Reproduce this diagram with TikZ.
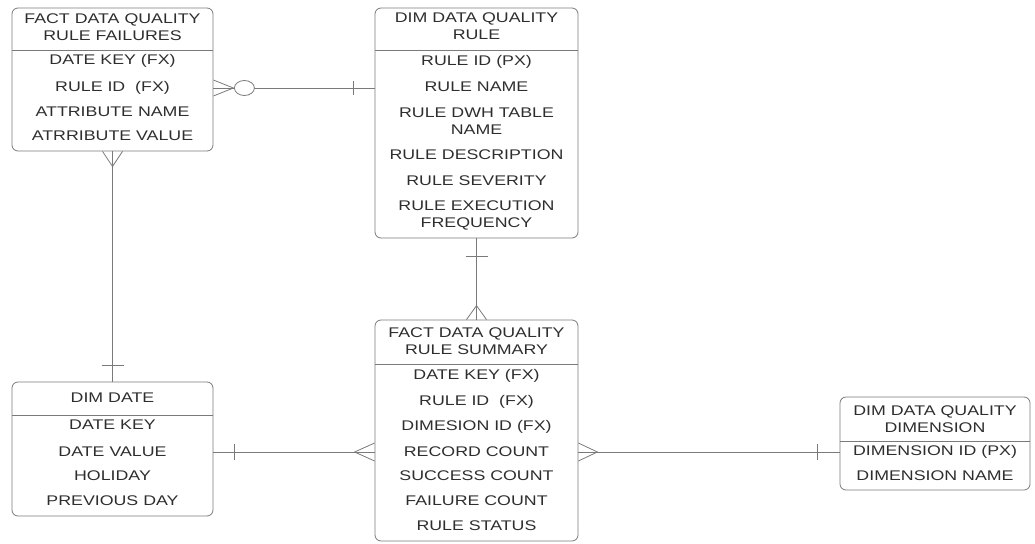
\documentclass[tikz,border=0pt]{standalone}
\usepackage{fontspec}
\newfontfamily\erfont{Liberation Sans}[FakeStretch=1.27]
\usepackage{xcolor}
\definecolor{cLine}{HTML}{7A7A7A}
\definecolor{cText}{HTML}{2E2E2E}
\usepackage{tikz}
\usetikzlibrary{positioning,calc}
\tikzset{
  entity/.style={draw=cLine,line width=0.8pt,rounded corners=6pt,
    inner sep=0pt},
  field/.style={font=\erfont\fontsize{14}{17}\selectfont,text=cText,
    inner sep=0pt,align=center},
  rel/.style={draw=cLine,line width=0.8pt},
}
\begin{document}
\begin{tikzpicture}[x=1pt,y=-1pt]
  \useasboundingbox (0,0) rectangle (1035,543);
  % entity boxes
  \node[entity,minimum width=201pt,minimum height=143pt] (fail) at (112.5,79.5) {};
  \node[entity,minimum width=203pt,minimum height=230pt] (rule) at (476.5,123) {};
  \node[entity,minimum width=201pt,minimum height=134pt] (date) at (112.5,449) {};
  \node[entity,minimum width=203pt,minimum height=221pt] (summ) at (476.5,430.5) {};
  \node[entity,minimum width=190pt,minimum height=93pt]  (dim)  at (935,443.5) {};
  % header dividers
  \draw[rel] (12,50)  -- (213,50);
  \draw[rel] (375,50) -- (578,50);
  \draw[rel] (12,415) -- (213,415);
  \draw[rel] (375,364) -- (578,364);
  \draw[rel] (840,441) -- (1030,441);

  % FACT DATA QUALITY RULE FAILURES
  \node[field] (fail-t)    at (112.5,27)  {FACT DATA QUALITY\\RULE FAILURES};
  \node[field] (fail-date) at (112.5,61)  {DATE KEY (FX)};
  \node[field] (fail-rule) at (112.5,88)  {RULE ID~ (FX)};
  \node[field] (fail-an)   at (112.5,112) {ATTRIBUTE NAME};
  \node[field] (fail-av)   at (112.5,136) {ATRRIBUTE VALUE};

  % DIM DATA QUALITY RULE
  \node[field] (rule-t)    at (476.5,26)  {DIM DATA QUALITY\\RULE};
  \node[field] (rule-id)   at (476.5,62)  {RULE ID (PX)};
  \node[field] (rule-name) at (476.5,87)  {RULE NAME};
  \node[field] (rule-tab)  at (476.5,121) {RULE DWH TABLE\\NAME};
  \node[field] (rule-desc) at (476.5,155) {RULE DESCRIPTION};
  \node[field] (rule-sev)  at (476.5,181) {RULE SEVERITY};
  \node[field] (rule-freq) at (476.5,215) {RULE EXECUTION\\FREQUENCY};

  % DIM DATE
  \node[field] (date-t)    at (112.5,398) {DIM DATE};
  \node[field] (date-key)  at (112.5,425) {DATE KEY};
  \node[field] (date-val)  at (112.5,452) {DATE VALUE};
  \node[field] (date-hol)  at (112.5,476) {HOLIDAY};
  \node[field] (date-prev) at (112.5,501) {PREVIOUS DAY};

  % FACT DATA QUALITY RULE SUMMARY
  \node[field] (summ-t)    at (476.5,341.5) {FACT DATA QUALITY\\RULE SUMMARY};
  \node[field] (summ-date) at (476.5,376) {DATE KEY (FX)};
  \node[field] (summ-rule) at (476.5,402) {RULE ID~ (FX)};
  \node[field] (summ-dim)  at (476.5,427) {DIMESION ID (FX)};
  \node[field] (summ-rec)  at (476.5,452) {RECORD COUNT};
  \node[field] (summ-suc)  at (476.5,476) {SUCCESS COUNT};
  \node[field] (summ-fail) at (476.5,501) {FAILURE COUNT};
  \node[field] (summ-st)   at (476.5,526) {RULE STATUS};

  % DIM DATA QUALITY DIMENSION
  \node[field] (dim-t)     at (935,419) {DIM DATA QUALITY\\DIMENSION};
  \node[field] (dim-id)    at (935,452) {DIMENSION ID (PX)};
  \node[field] (dim-name)  at (935,476) {DIMENSION NAME};

  % relationships
  \coordinate (a1) at (fail.east |- fail-rule);
  \coordinate (b1) at (rule.west |- fail-rule);
  \draw[rel] (a1) -- (b1);
  \draw[rel] ($(a1)+(0,-8)$) -- ($(a1)+(20,0)$) -- ($(a1)+(0,8)$);
  \draw[rel,fill=white] ($(a1)+(31,0)$) ellipse [x radius=10pt,y radius=7.5pt];
  \draw[rel] ($(b1)+(-21,-7)$) -- ($(b1)+(-21,7)$);

  \draw[rel] (fail.south) -- (date.north);
  \draw[rel] ($(fail.south)+(-10,0)$) -- ($(fail.south)+(0,15)$) -- ($(fail.south)+(10,0)$);
  \draw[rel] ($(date.north)+(-11,-16)$) -- ($(date.north)+(11,-16)$);

  \draw[rel] (rule.south) -- (summ.north);
  \draw[rel] ($(rule.south)+(-11,18)$) -- ($(rule.south)+(11,18)$);
  \draw[rel] ($(summ.north)+(-10,0)$) -- ($(summ.north)+(0,-14)$) -- ($(summ.north)+(10,0)$);

  \coordinate (a4) at (date.east |- date-val);
  \coordinate (b4) at (summ.west |- date-val);
  \draw[rel] (a4) -- (b4);
  \draw[rel] ($(a4)+(21,-8)$) -- ($(a4)+(21,8)$);
  \draw[rel] ($(b4)+(0,-9)$) -- ($(b4)+(-20,0)$) -- ($(b4)+(0,9)$);

  \coordinate (a5) at (summ.east |- dim-id);
  \coordinate (b5) at (dim.west |- dim-id);
  \draw[rel] (a5) -- (b5);
  \draw[rel] ($(a5)+(0,-9)$) -- ($(a5)+(19,0)$) -- ($(a5)+(0,9)$);
  \draw[rel] ($(b5)+(-22,-8)$) -- ($(b5)+(-22,8)$);
\end{tikzpicture}
\end{document}
